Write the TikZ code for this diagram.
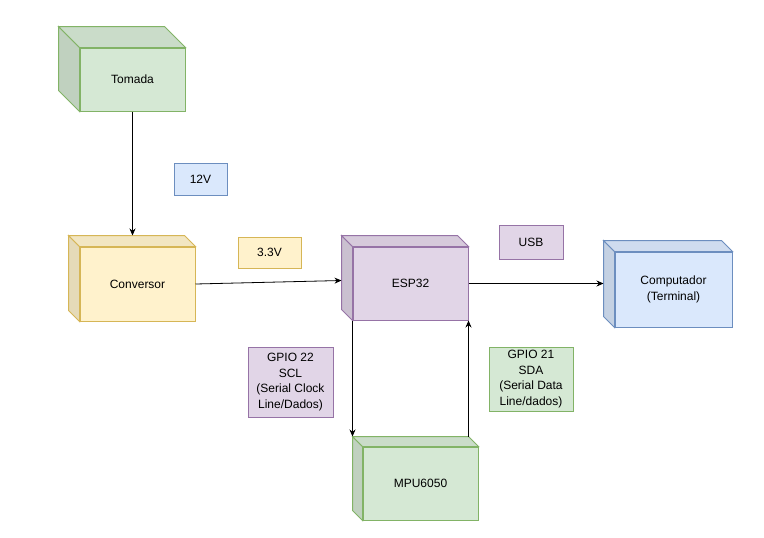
\documentclass[tikz,border=0pt]{standalone}
\usepackage{fontspec}
\setmainfont{Liberation Sans}
\usetikzlibrary{arrows.meta}
\definecolor{fill-grn}{HTML}{D5E8D4}
\definecolor{line-grn}{HTML}{82B366}
\definecolor{fill-ylw}{HTML}{FFF2CC}
\definecolor{line-ylw}{HTML}{D6B656}
\definecolor{fill-pur}{HTML}{E1D5E7}
\definecolor{line-pur}{HTML}{9673A6}
\definecolor{fill-blu}{HTML}{DAE8FC}
\definecolor{line-blu}{HTML}{6C8EBF}

\begin{document}
\begin{tikzpicture}[x=1pt,y=-1pt,
  face/.style={draw=line-#1, fill=fill-#1, line width=1pt},
  tag/.style={draw=line-#1, fill=fill-#1, line width=1pt},
  wire/.style={-{Stealth[length=7pt,width=6pt]}, line width=0.8pt}]
\tikzstyle{every node}+=[inner sep=0pt, align=center, font=\fontsize{12}{15.5}\selectfont]
\useasboundingbox (0,0) rectangle (764,538);

% blocos (face da frente)
\node[face=grn, minimum width=105pt, minimum height=63pt] (tomada) at (132.5,79.5) {Tomada};
\node[face=ylw, minimum width=115pt, minimum height=74pt] (conv) at (137.5,284) {Conversor};
\node[face=pur, minimum width=115pt, minimum height=73pt] (esp) at (410.5,283.5) {ESP32};
\node[face=blu, minimum width=117pt, minimum height=75pt] (pc) at (673.5,289.5) {Computador\\(Terminal)};
\node[face=grn, minimum width=115pt, minimum height=73pt] (mpu) at (420.5,483.5) {MPU6050};

% faces laterais
\foreach \n/\col/\d in {tomada/grn/21, conv/ylw/11, esp/pur/11, pc/blu/11, mpu/grn/10}{
  \filldraw[draw=line-\col, fill=fill-\col!90!black, line width=1pt]
    (\n.north west) -- ++(-\d,-\d) -- ([shift={(-\d,-\d)}]\n.south west) -- (\n.south west) -- cycle;
  \filldraw[draw=line-\col, fill=fill-\col!95!black, line width=1pt]
    (\n.north west) -- ++(-\d,-\d) -- ([shift={(-\d,-\d)}]\n.north east) -- (\n.north east) -- cycle;
}

% etiquetas
\node[tag=blu, minimum width=53pt, minimum height=32pt] (v12) at (200.5,179) {12V};
\node[tag=ylw, minimum width=63pt, minimum height=31pt] (v33) at (269.5,252.5) {3.3V};
\node[tag=pur, minimum width=64pt, minimum height=34pt] (usb) at (531,242) {USB};
\node[tag=pur, minimum width=85pt, minimum height=70pt] (scl) at (290.5,382) {GPIO 22\\SCL\\(Serial Clock\\Line/Dados)};
\node[tag=grn, minimum width=84pt, minimum height=64pt] (sda) at (531,379) {GPIO 21\\SDA\\(Serial Data\\Line/dados)};

% ligacoes
\coordinate (convtop) at ([yshift=11pt]conv.north);
\coordinate (espin) at ([shift={(-11,-3)}]esp.west);
\coordinate (pcin) at ([xshift=-11pt]pc.west);
\coordinate (mputop) at ([yshift=10pt]mpu.north);
\draw[wire] (tomada.south) -- (tomada.south |- convtop);
\draw[wire] (conv.east) -- (espin);
\draw[wire] (esp.east) -- (esp.east -| pcin);
\draw[wire] (esp.south west) -- (esp.south west |- mputop);
\draw[wire] (mputop -| esp.south east) -- (esp.south east);
\end{tikzpicture}
\end{document}
